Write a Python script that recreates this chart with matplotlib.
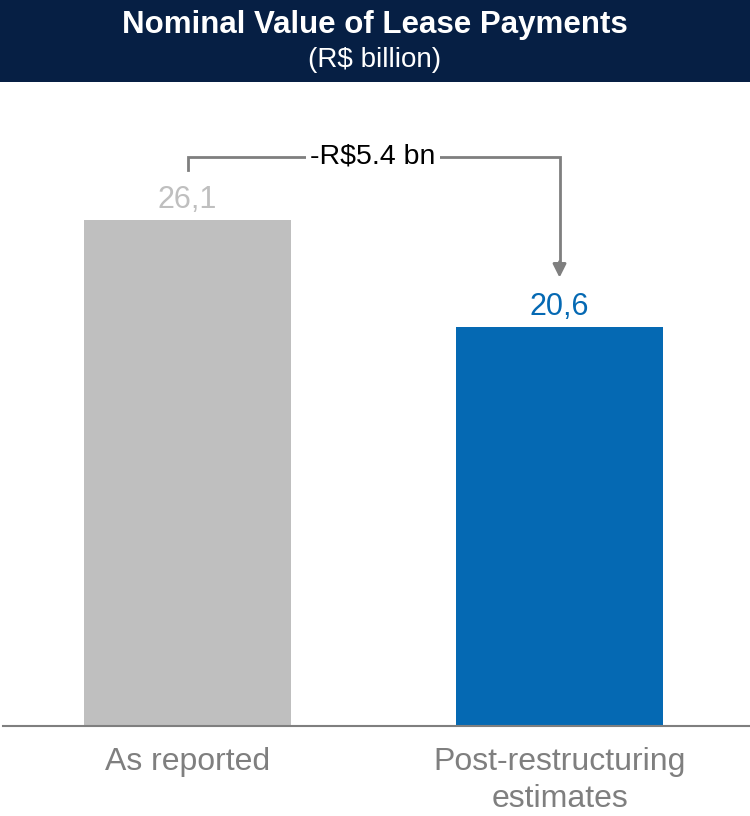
import matplotlib
matplotlib.use("Agg")
import matplotlib.pyplot as plt
from matplotlib.patches import Rectangle

plt.rcParams['font.family'] = ['Liberation Sans', 'DejaVu Sans']

categories = ["As reported", "Post-restructuring\nestimates"]
values = [26.1, 20.6]
value_labels = ["26,1", "20,6"]
bar_colors = ["#bfbfbf", "#0569b3"]
label_colors = ["#bfbfbf", "#0569b3"]
delta_label = "-R$5.4 bn"

W, H, DPI = 750, 816, 100
fig = plt.figure(figsize=(W / DPI, H / DPI), dpi=DPI)
fig.patch.set_facecolor("white")

# Header band
fig.patches.append(Rectangle((0, 1 - 82 / H), 1, 82 / H, transform=fig.transFigure,
                             facecolor="#061f44", edgecolor="none", zorder=0))
fig.text(0.5, 1 - 25 / H, "Nominal Value of Lease Payments", color="white",
         fontsize=22.5, fontweight="bold", ha="center", va="center")
fig.text(0.5, 1 - 60 / H, "(R$ billion)", color="white", fontsize=20,
         ha="center", va="center")

# Plot area: baseline at 726 px, top at 90 px
ax_bottom = (H - 726) / H
ax_top = (H - 90) / H
ax = fig.add_axes([0.004, ax_bottom, 0.996, ax_top - ax_bottom])
ax.set_facecolor("none")

x = [0, 1]
ax.bar(x, values, width=0.556, color=bar_colors, zorder=2)
ax.set_xlim(-0.496, 1.512)
ax.set_ylim(0, 26.1 * 636 / 506)

for s in ["top", "right", "left"]:
    ax.spines[s].set_visible(False)
ax.spines["bottom"].set_color("#7f7f7f")
ax.spines["bottom"].set_linewidth(1.5)
ax.set_yticks([])
ax.set_xticks(x)
ax.set_xticklabels(categories, fontsize=23, color="#7f7f7f", linespacing=1.32)
ax.tick_params(axis="x", length=0, pad=15)

# Value labels
for xi, v, lab, c in zip(x, values, value_labels, label_colors):
    ax.text(xi, v + 0.25, lab, ha="center", va="bottom", fontsize=22, color=c)

# Difference bracket with arrow
px = 26.1 / 506  # data units per pixel
y_top = values[0] + 63 * px
y_start = values[0] + 50 * px
y_tip = values[1] + 49 * px
gray = "#7f7f7f"
ax.plot([x[0], x[0], x[1], x[1]], [y_start, y_top, y_top, y_tip + 14 * px],
        color=gray, lw=2, solid_joinstyle="miter", zorder=3, clip_on=False)
ax.annotate("", xy=(x[1], y_tip), xytext=(x[1], y_tip + 16 * px),
            arrowprops=dict(arrowstyle="-|>,head_length=0.8,head_width=0.4",
                            color=gray, lw=2, shrinkA=0, shrinkB=0), zorder=3)
ax.text(0.498, y_top, delta_label, ha="center", va="center", fontsize=20.5,
        color="black", zorder=4,
        bbox=dict(facecolor="white", edgecolor="none", pad=3))

fig.savefig("out.png", dpi=DPI)
